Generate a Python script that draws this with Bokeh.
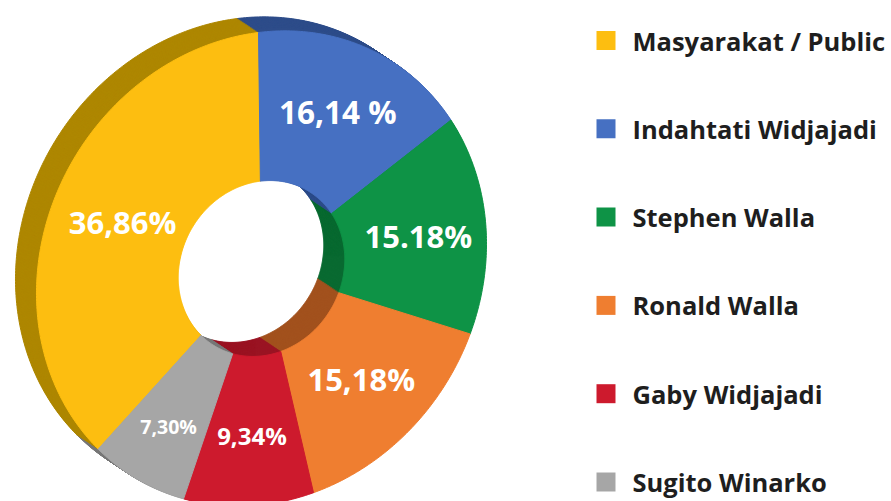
import numpy as np
from bokeh.plotting import figure
from bokeh.models import Range1d, ColumnDataSource
from bokeh.core.properties import value
from bokeh.embed import file_html
from bokeh.resources import INLINE

# ---------------- data ----------------
names = ["Masyarakat / Public", "Indahtati Widjajadi", "Stephen Walla",
         "Ronald Walla", "Gaby Widjajadi", "Sugito Winarko"]
shares = [36.86, 16.14, 15.18, 15.18, 9.34, 7.30]
labels = ["36,86%", "16,14 %", "15.18%", "15,18%", "9,34%", "7,30%"]

# ---------------- style ----------------
colors = ["#FDBE10", "#4670C2", "#0E9346", "#EF7E30", "#CD1A2D", "#A6A6A6"]
side_colors = ["#AE8700", "#2E4D8A", "#096A31", "#A2511D", "#9A1423", "#777777"]
label_sizes = ["31px", "31.5px", "31px", "31px", "24px", "19.5px"]
label_r = [0.67, 0.715, 0.70, 0.68, 0.705, 0.75]
FONT = "Open Sans"

# layout (page pixel frame: y grows downward; converted to data below)
W, H = 891, 501
CX, CY = 261.0, 268.0
A = np.array([[225.0, 3.0], [-28.0, 236.0]])   # tilt of the disc
R_IN = 0.37
DEPTH = (-21.0, -14.0)                          # extrusion offset of back face
N_LAYERS = 22


def to_page(theta_deg, r, dx=0.0, dy=0.0):
    t = np.radians(theta_deg)
    u = np.vstack([np.sin(t), -np.cos(t)])
    v = A @ u
    return CX + dx + r * v[0], CY + dy + r * v[1]


def ring_poly(t0, t1, dx=0.0, dy=0.0):
    n = max(8, int(abs(t1 - t0) * 1.5))
    th = np.linspace(t0, t1, n)
    ox, oy = to_page(th, 1.0, dx, dy)
    ix, iy = to_page(th[::-1], R_IN, dx, dy)
    xs = np.concatenate([ox, ix])
    ys = np.concatenate([oy, iy])
    return list(xs), list(H - ys)


# slice angles, clockwise from 12 o'clock; first slice ends at the top
total = sum(shares)
ang = np.array(shares) / total * 360.0
starts = -ang[0] + np.concatenate([[0.0], np.cumsum(ang)[:-1]])
ends = starts + ang

p = figure(width=W, height=H, x_range=Range1d(0, W), y_range=Range1d(0, H),
           output_backend="svg", toolbar_location=None, min_border=0)
p.axis.visible = False
p.grid.visible = False
p.outline_line_color = None
p.background_fill_color = "white"
p.border_fill_color = "white"

# extruded body: layers from back to front
bx, by, bc = [], [], []
for k in range(N_LAYERS, 0, -1):
    f = k / N_LAYERS
    for i in range(len(shares)):
        xs, ys = ring_poly(starts[i], ends[i], DEPTH[0] * f, DEPTH[1] * f)
        bx.append(xs); by.append(ys); bc.append(side_colors[i])
p.patches(xs="xs", ys="ys", source=ColumnDataSource(dict(xs=bx, ys=by, c=bc)),
          fill_color="c", line_color="c", line_width=1)

# front face
fx, fy = [], []
for i in range(len(shares)):
    xs, ys = ring_poly(starts[i], ends[i])
    fx.append(xs); fy.append(ys)
p.patches(xs="xs", ys="ys", source=ColumnDataSource(dict(xs=fx, ys=fy, c=colors)),
          fill_color="c", line_color="c", line_width=1)

# value labels
mids = (starts + ends) / 2
lx, ly = [], []
for i in range(len(shares)):
    x, y = to_page(np.array([mids[i]]), label_r[i])
    lx.append(float(x[0])); ly.append(float(H - y[0]))
p.text(x="x", y="y", text="t", source=ColumnDataSource(dict(x=lx, y=ly, t=labels, s=label_sizes)),
       text_color="white", text_font=value(FONT), text_font_style="bold",
       text_font_size="s", text_align="center", text_baseline="middle")

# legend
leg_y = [H - (40 + i * 88.3) for i in range(len(names))]
leg_x = [605.5] * len(names)
p.rect(x=leg_x, y=leg_y, width=19, height=19, fill_color=colors, line_color=None)
p.text(x=[632.0] * len(names), y=leg_y, text=names, text_color="#1E1E1E",
       text_font=value(FONT), text_font_style="bold", text_font_size="25.5px",
       text_align="left", text_baseline="middle")

open("out.html", "w").write(file_html(p, INLINE))
